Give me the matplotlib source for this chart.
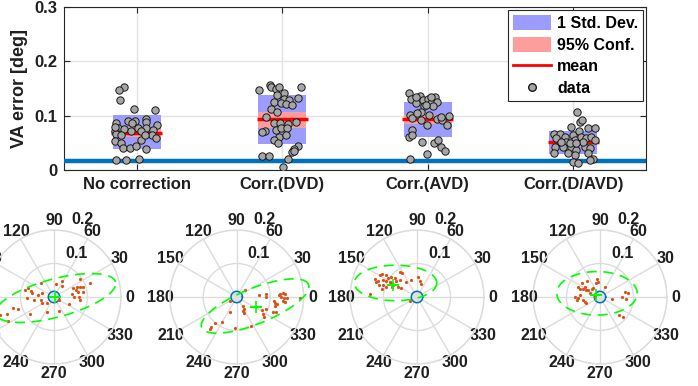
import numpy as np
import matplotlib
matplotlib.use('Agg')
import matplotlib.pyplot as plt
from matplotlib.patches import Patch, Rectangle
from matplotlib.lines import Line2D

plt.rcParams['font.family'] = ['Liberation Sans', 'DejaVu Sans']
plt.rcParams['font.weight'] = 'bold'

# ---------------- data: top panel ----------------
categories = ['No correction', 'Corr.(DVD)', 'Corr.(AVD)', 'Corr.(D/AVD)']
means = [0.069, 0.093, 0.093, 0.052]
std_lo = [0.039, 0.048, 0.061, 0.029]
std_hi = [0.101, 0.138, 0.126, 0.072]
ci_lo = [0.060, 0.078, 0.084, 0.047]
ci_hi = [0.080, 0.107, 0.101, 0.054]
threshold = 0.017

jit_nocorr = [-0.090, -0.120, -0.113, -0.021, 0.124, -0.060, -0.011, 0.062, 0.067, -0.145,
              -0.129, -0.087, -0.041, 0.009, 0.067, 0.136, 0.113, -0.147, -0.140, 0.032,
              0.106, 0.131, -0.147, -0.106, -0.094, -0.048, -0.007, 0.067, 0.032, -0.140,
              -0.071, 0.014, -0.152, 0.055, -0.032, -0.106]
va_nocorr = [0.152, 0.147, 0.128, 0.113, 0.110, 0.091, 0.091, 0.094, 0.089, 0.087,
             0.077, 0.075, 0.072, 0.077, 0.078, 0.082, 0.074, 0.072, 0.067, 0.071,
             0.064, 0.058, 0.054, 0.049, 0.040, 0.041, 0.044, 0.038, 0.055, 0.018,
             0.018, 0.021, 0.080, 0.064, 0.087, 0.064]

jit_dvd = [-0.159, -0.085, -0.078, -0.044, -0.021, 0.009, -0.037, 0.014, 0.044, 0.129,
           0.106, -0.055, -0.009, 0.025, 0.064, -0.078, -0.037, -0.113, -0.055, -0.014,
           0.037, 0.094, -0.120, -0.044, -0.009, 0.032, -0.021, 0.025, -0.055, -0.032,
           0.110, 0.078, 0.064, -0.136, -0.090, 0.037, 0.007, 0.083, -0.138]
va_dvd = [0.147, 0.156, 0.152, 0.149, 0.153, 0.141, 0.138, 0.131, 0.129, 0.153,
          0.133, 0.126, 0.123, 0.121, 0.120, 0.113, 0.107, 0.098, 0.086, 0.087,
          0.084, 0.089, 0.071, 0.074, 0.077, 0.078, 0.061, 0.064, 0.055, 0.049,
          0.045, 0.039, 0.033, 0.025, 0.025, 0.021, 0.006, 0.035, 0.070]

jit_avd = [-0.129, -0.113, -0.053, -0.030, 0.002, 0.021, 0.051, 0.067, 0.039, -0.025,
           -0.048, -0.122, -0.106, -0.076, 0.009, 0.067, 0.101, 0.147, 0.131, -0.007,
           -0.110, -0.129, -0.041, 0.044, 0.071, 0.090, 0.117, -0.007, -0.122, -0.014,
           -0.083, 0.090, -0.048, -0.106, 0.025, -0.083]
va_avd = [0.141, 0.131, 0.136, 0.129, 0.131, 0.123, 0.134, 0.126, 0.118, 0.117,
          0.107, 0.101, 0.095, 0.104, 0.101, 0.093, 0.092, 0.099, 0.083, 0.083,
          0.074, 0.060, 0.052, 0.050, 0.056, 0.043, 0.035, 0.029, 0.020, 0.120,
          0.123, 0.098, 0.092, 0.064, 0.135, 0.135]

jit_davd = [0.028, 0.044, 0.060, -0.014, 0.101, 0.152, -0.129, -0.094, -0.060, -0.117,
            -0.083, -0.048, -0.002, 0.009, 0.037, 0.055, 0.090, 0.124, 0.147, -0.124,
            -0.071, -0.014, 0.021, 0.078, 0.113, -0.129, -0.037, 0.009, 0.101, 0.136,
            0.113, -0.002, 0.032, -0.083, -0.025, 0.067, 0.021]
va_davd = [0.106, 0.089, 0.092, 0.079, 0.077, 0.077, 0.067, 0.067, 0.060, 0.058,
           0.049, 0.052, 0.064, 0.055, 0.071, 0.061, 0.058, 0.061, 0.055, 0.043,
           0.042, 0.043, 0.037, 0.043, 0.040, 0.032, 0.031, 0.028, 0.031, 0.021,
           0.018, 0.015, 0.012, 0.052, 0.049, 0.052, 0.049]

jitters = [jit_nocorr, jit_dvd, jit_avd, jit_davd]
values = [va_nocorr, va_dvd, va_avd, va_davd]

# ---------------- data: polar panels (horizontal / vertical error components, deg) ----------------
ex_nocorr = [-0.040, 0.023, 0.006, 0.025, -0.087, -0.077, -0.070, -0.067, -0.082, -0.047,
             -0.037, -0.040, -0.037, -0.020, -0.022, 0.016, 0.016, 0.046, 0.053, 0.058,
             0.070, 0.078, 0.086, 0.066, 0.073, 0.088, 0.076, 0.078, 0.060, 0.107,
             0.078, -0.123, -0.106, -0.139, -0.136, -0.072, -0.059, -0.162]
ey_nocorr = [0.043, 0.048, 0.038, 0.034, 0.021, 0.026, 0.019, 0.013, -0.004, 0.006,
             0.011, -0.009, -0.019, -0.017, -0.044, -0.009, -0.041, -0.022, 0.008, 0.026,
             0.031, 0.031, 0.031, 0.021, 0.016, 0.016, 0.001, -0.009, -0.001, 0.041,
             0.053, -0.034, -0.037, -0.051, -0.071, -0.051, -0.009, -0.055]

ex_dvd = [0.024, 0.066, 0.086, 0.088, 0.125, 0.130, 0.137, 0.143, 0.133, 0.140,
          0.150, 0.137, 0.145, 0.190, 0.110, 0.115, 0.113, 0.120, 0.107, 0.117,
          0.076, 0.079, 0.081, 0.018, 0.021, 0.019, 0.021, -0.021, -0.044, -0.066,
          -0.076, -0.079, -0.006, 0.044, 0.088, -0.020]
ey_dvd = [0.021, 0.006, 0.009, 0.001, 0.006, 0.009, 0.011, 0.009, -0.001, -0.003,
          -0.003, -0.011, -0.016, -0.003, -0.013, -0.019, -0.026, -0.021, -0.046, -0.046,
          -0.039, -0.051, -0.061, -0.026, -0.036, -0.041, -0.049, -0.046, -0.076, -0.079,
          -0.091, -0.096, -0.093, -0.086, -0.036, -0.012]

ex_avd = [-0.126, -0.111, -0.103, -0.094, -0.087, -0.077, -0.065, -0.052, -0.044, -0.052,
          -0.062, -0.074, -0.082, -0.092, -0.101, -0.116, -0.123, -0.101, -0.092, -0.103,
          -0.074, -0.072, -0.057, -0.047, -0.034, -0.019, 0.003, 0.010, 0.013, -0.113,
          -0.139, -0.022]
ey_avd = [0.053, 0.067, 0.070, 0.065, 0.057, 0.060, 0.057, 0.075, 0.073, 0.050,
          0.047, 0.043, 0.045, 0.047, 0.050, 0.047, 0.045, 0.035, 0.030, 0.023,
          0.030, 0.037, 0.030, 0.028, 0.045, 0.050, 0.060, 0.047, 0.040, 0.037,
          0.010, -0.013]

ex_davd = [-0.055, -0.040, -0.010, -0.005, -0.012, -0.065, -0.060, -0.050, -0.042, -0.035,
           -0.025, -0.020, 0.015, -0.075, -0.070, -0.065, -0.060, -0.045, -0.042, -0.050,
           0.075, 0.085, 0.078, 0.065, 0.035, 0.058, 0.070, -0.015, -0.030, -0.045]
ey_davd = [0.043, 0.049, 0.053, 0.046, 0.041, 0.029, 0.023, 0.023, 0.021, 0.021,
           0.023, 0.026, 0.029, 0.001, -0.009, -0.004, 0.006, -0.014, -0.019, -0.009,
           0.016, 0.011, -0.007, -0.001, -0.007, -0.054, -0.059, 0.001, 0.011, 0.029]

err_x = [ex_nocorr, ex_dvd, ex_avd, ex_davd]
err_y = [ey_nocorr, ey_dvd, ey_avd, ey_davd]

# mean (+) and confidence ellipse: centre x, centre y, semi-axis a, semi-axis b, tilt (deg)
mean_x = [0.003, 0.058, -0.072, -0.013]
mean_y = [-0.001, -0.030, 0.037, 0.006]
ell_cx = [0.005, 0.055, -0.064, -0.009]
ell_cy = [-0.003, -0.027, 0.042, 0.011]
ell_a = [0.185, 0.172, 0.123, 0.120]
ell_b = [0.057, 0.053, 0.053, 0.065]
ell_ang = [15, 22, 0, 0]

theta_ticks = list(range(0, 360, 30))
r_ticks = [0.1, 0.2]

# ---------------- figure ----------------
W, H = 698, 386
fig = plt.figure(figsize=(W / 100, H / 100), dpi=100)
TXT = '#1f1f1f'

ax = fig.add_axes([64 / W, (H - 170) / H, 582 / W, 163 / H])
hw = 0.165
for i in range(len(categories)):
    pos = i + 1
    ax.add_patch(Rectangle((pos - hw, std_lo[i]), 2 * hw, std_hi[i] - std_lo[i],
                           facecolor='#9c9cff', edgecolor='none', zorder=2))
    ax.add_patch(Rectangle((pos - hw, ci_lo[i]), 2 * hw, ci_hi[i] - ci_lo[i],
                           facecolor='#ff9c9c', edgecolor='none', zorder=3))
    ax.plot([pos - hw - 0.01, pos + hw + 0.01], [means[i], means[i]], color='#ff0000',
            lw=2.5, zorder=4, solid_capstyle='butt')
    ax.plot(pos + np.array(jitters[i]), values[i], 'o', mfc='#a6a6a6', mec='#1a1a1a',
            ms=5.3, mew=0.7, zorder=6, ls='none')
ax.axhline(threshold, color='#0072bd', lw=3.2, zorder=5)

ax.set_xlim(0.5, 4.5)
ax.set_ylim(0, 0.3)
ax.set_xticks(range(1, 5))
ax.set_xticklabels(categories, fontsize=12, fontweight='bold', color=TXT)
ax.set_yticks([0, 0.1, 0.2, 0.3])
ax.set_yticklabels(['0', '0.1', '0.2', '0.3'], fontsize=12, fontweight='bold', color=TXT)
ax.set_ylabel('VA error [deg]', fontsize=13, fontweight='bold', color=TXT, labelpad=4)
ax.grid(True, color='#e3e3e3', lw=1)
ax.set_axisbelow(True)
ax.tick_params(direction='in', top=True, right=True, length=4, width=0.8, colors='#262626', pad=5)
for lab in ax.get_xticklabels() + ax.get_yticklabels():
    lab.set_color(TXT)
for s in ax.spines.values():
    s.set_color('#262626')
    s.set_linewidth(0.8)

handles = [Patch(facecolor='#9c9cff', edgecolor='none', label='1 Std. Dev.'),
           Patch(facecolor='#ff9c9c', edgecolor='none', label='95% Conf.'),
           Line2D([], [], color='#ff0000', lw=2, label='mean'),
           Line2D([], [], marker='o', ls='none', mfc='#a6a6a6', mec='#1a1a1a', ms=5.5, label='data')]
leg = ax.legend(handles=handles, loc='upper right', prop={'weight': 'bold', 'size': 11.5},
                frameon=True, fancybox=False, edgecolor='#262626', framealpha=1,
                handlelength=2.4, handleheight=1.1, labelspacing=0.35, borderpad=0.3,
                borderaxespad=0.2, handletextpad=0.35)
leg.get_frame().set_linewidth(0.8)

centers_x = [54, 236.7, 417, 600]
cy, R = 297, 67
t = np.linspace(0, 2 * np.pi, 300)
for k in range(4):
    pax = fig.add_axes([(centers_x[k] - R) / W, (H - cy - R) / H, 2 * R / W, 2 * R / H],
                       projection='polar')
    pax.set_rlim(0, 0.2)
    pax.set_rticks(r_ticks)
    pax.set_yticklabels([])
    pax.set_thetagrids(theta_ticks, [str(a) for a in theta_ticks], fontsize=11.5,
                       fontweight='bold', color=TXT)
    pax.tick_params(axis='x', pad=-4)
    pax.grid(True, color='#dcdcdc', lw=1)
    pax.spines['polar'].set_color('#dcdcdc')
    pax.spines['polar'].set_linewidth(1)
    pax.set_facecolor('none')

    # threshold circle
    pax.fill(t, np.full_like(t, threshold), color='#e0e0e0', zorder=3)
    pax.plot(t, np.full_like(t, threshold), color='#0072bd', lw=1.1, zorder=4)

    # data points
    xs = np.array(err_x[k]); ys = np.array(err_y[k])
    pax.plot(np.arctan2(ys, xs), np.hypot(xs, ys), 'o', color='#d95319', ms=2.3,
             mew=0, ls='none', zorder=5)

    # ellipse
    ang = np.deg2rad(ell_ang[k])
    exl = ell_cx[k] + ell_a[k] * np.cos(t) * np.cos(ang) - ell_b[k] * np.sin(t) * np.sin(ang)
    eyl = ell_cy[k] + ell_a[k] * np.cos(t) * np.sin(ang) + ell_b[k] * np.sin(t) * np.cos(ang)
    pax.plot(np.arctan2(eyl, exl), np.hypot(exl, eyl), color='#00ff00', lw=1.2,
             ls=(0, (6, 4)), zorder=6, clip_on=False)

    # mean
    pax.plot(np.arctan2(mean_y[k], mean_x[k]), np.hypot(mean_x[k], mean_y[k]), '+',
             color='#00ff00', ms=9, mew=1.2, zorder=7)

    # radial labels
    for rv, (th, rr) in zip(r_ticks, [(63, 0.147), (70, 0.245)]):
        pax.text(np.deg2rad(th), rr, f'{rv:g}', fontsize=11.5, fontweight='bold',
                 color=TXT, ha='center', va='center', zorder=8)

fig.savefig('out.png', dpi=100)
